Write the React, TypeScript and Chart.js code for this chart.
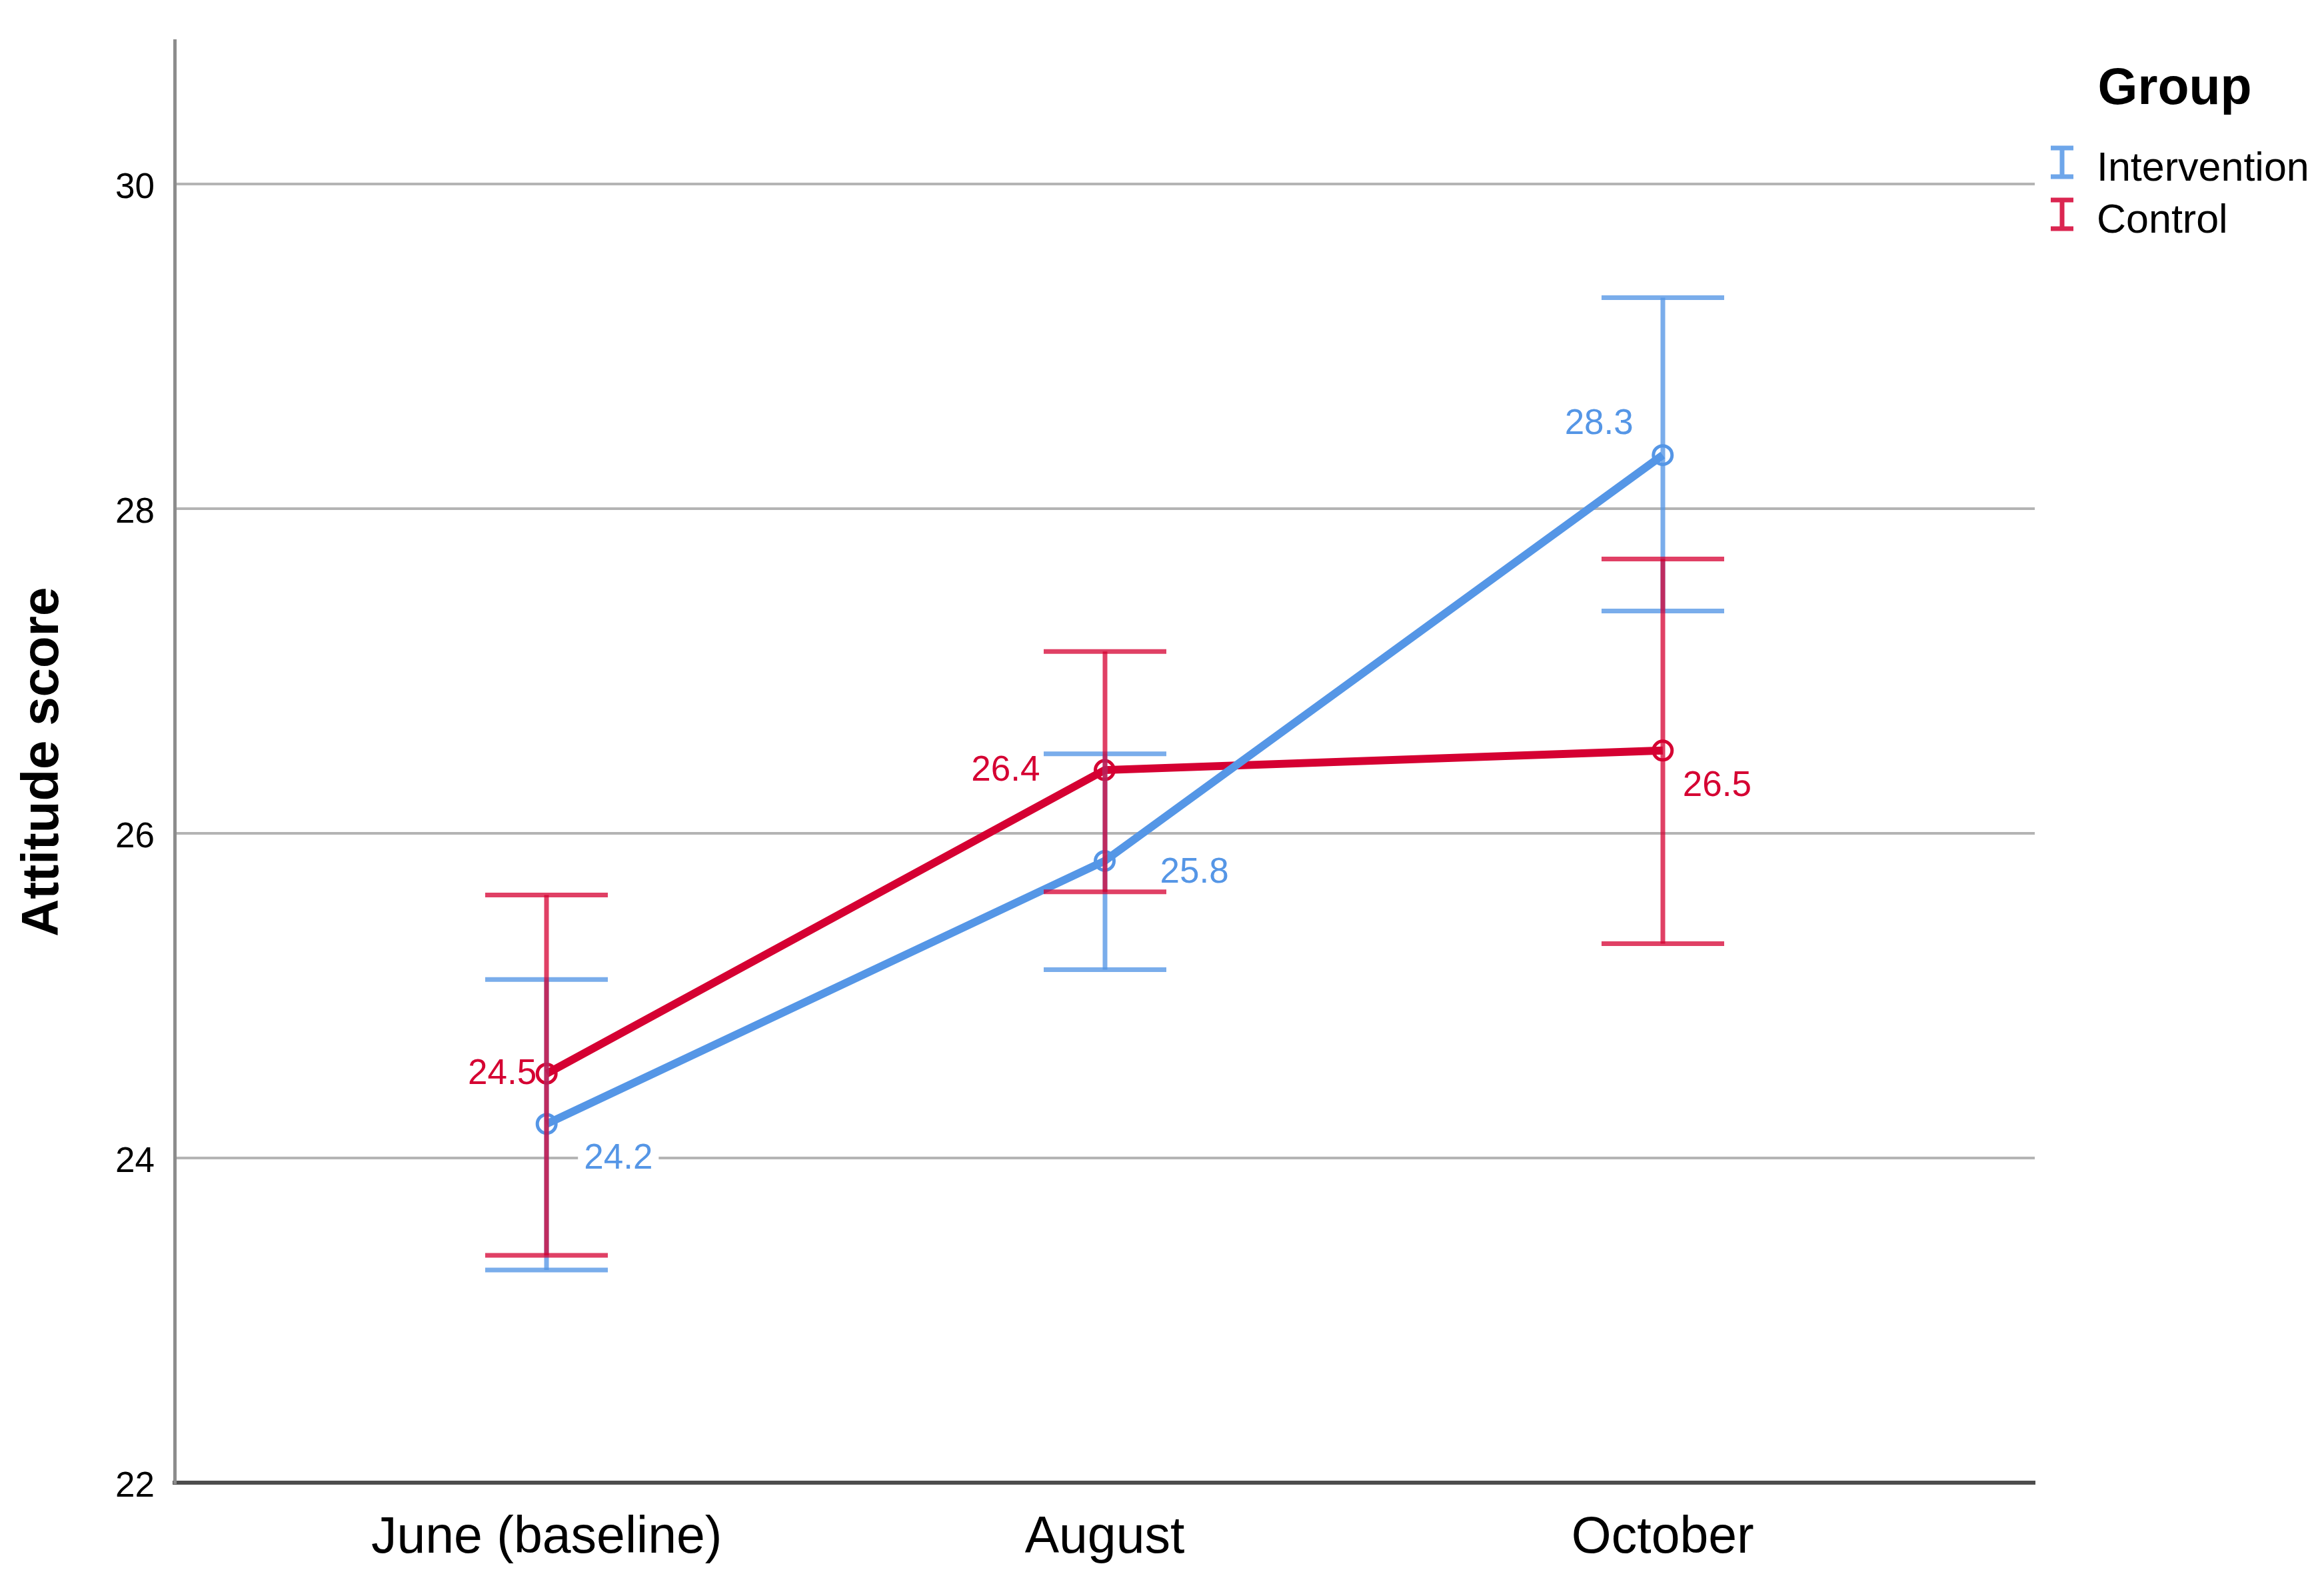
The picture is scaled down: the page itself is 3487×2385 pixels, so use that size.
import React, { useEffect, useRef } from 'react';
import { Chart, registerables } from 'chart.js';

Chart.register(...registerables);

// ---------- data ----------
const categories = ['June (baseline)', 'August', 'October'];
const seriesNames = ['Intervention', 'Control'];

const interventionMeans = [24.21, 25.83, 28.33];
const interventionLower = [23.31, 25.16, 27.37];
const interventionUpper = [25.1, 26.49, 29.3];

const controlMeans = [24.52, 26.39, 26.51];
const controlLower = [23.4, 25.64, 25.32];
const controlUpper = [25.62, 27.12, 27.69];

const yTicks = [22, 24, 26, 28, 30];
const yTitle = 'Attitude score';
const legendTitle = 'Group';

// ---------- styles ----------
const W = 3487;
const H = 2385;
const FONT = "'Liberation Sans', Arial, Helvetica, sans-serif";
const BLUE = '#5596E6';
const RED = '#D50032';
const BLUE_BAR = 'rgba(85,150,230,0.78)';
const RED_BAR = 'rgba(213,0,50,0.75)';

// label placement (pixel offsets relative to the point; style only)
const interventionLabelPlacement = [
  { dx: 56, dy: 52, align: 'left' },
  { dx: 83, dy: 17, align: 'left' },
  { dx: -44, dy: -47, align: 'right' },
];
const controlLabelPlacement = [
  { dx: -15, dy: 0, align: 'right' },
  { dx: -97, dy: 0, align: 'right' },
  { dx: 30, dy: 53, align: 'left' },
];

const seriesMeta = [
  { means: interventionMeans, lower: interventionLower, upper: interventionUpper, color: BLUE, barColor: BLUE_BAR, placement: interventionLabelPlacement },
  { means: controlMeans, lower: controlLower, upper: controlUpper, color: RED, barColor: RED_BAR, placement: controlLabelPlacement },
];

const labelsPlugin = {
  id: 'valueLabels',
  beforeDatasetsDraw(chart: any) {
    const { ctx, scales } = chart;
    const xs = scales.x;
    const ys = scales.y;
    ctx.save();
    ctx.font = `53px ${FONT}`;
    ctx.textBaseline = 'middle';
    seriesMeta.forEach((s) => {
      s.means.forEach((m, i) => {
        const px = xs.getPixelForValue(i);
        const py = ys.getPixelForValue(m);
        const p = s.placement[i];
        const text = m.toFixed(1);
        const w = ctx.measureText(text).width;
        const left = p.align === 'left' ? px + p.dx : px + p.dx - w;
        const cy = py + p.dy;
        ctx.fillStyle = '#ffffff';
        ctx.fillRect(left - 9, cy - 24, w + 18, 48);
        ctx.fillStyle = s.color;
        ctx.textAlign = 'left';
        ctx.fillText(text, left, cy + 1);
      });
    });
    ctx.restore();
  },
};

const errorBarsPlugin = {
  id: 'errorBars',
  afterDatasetsDraw(chart: any) {
    const { ctx, scales } = chart;
    const xs = scales.x;
    const ys = scales.y;
    const half = 92;
    ctx.save();
    ctx.lineCap = 'butt';
    seriesMeta.forEach((s) => {
      ctx.strokeStyle = s.barColor;
      s.means.forEach((_, i) => {
        const px = Math.round(xs.getPixelForValue(i));
        const yTop = ys.getPixelForValue(s.upper[i]);
        const yBot = ys.getPixelForValue(s.lower[i]);
        ctx.lineWidth = 7;
        ctx.beginPath();
        ctx.moveTo(px, yTop);
        ctx.lineTo(px, yBot);
        ctx.stroke();
        ctx.lineWidth = 7;
        ctx.beginPath();
        ctx.moveTo(px - half, yTop);
        ctx.lineTo(px + half, yTop);
        ctx.moveTo(px - half, yBot);
        ctx.lineTo(px + half, yBot);
        ctx.stroke();
      });
    });
    ctx.restore();
  },
};

const legendPlugin = {
  id: 'customLegend',
  afterDraw(chart: any) {
    const { ctx } = chart;
    ctx.save();
    ctx.fillStyle = '#000';
    ctx.font = `bold 77px ${FONT}`;
    ctx.textAlign = 'center';
    ctx.textBaseline = 'alphabetic';
    ctx.fillText(legendTitle, 3263, 156);
    const rows = [271, 349];
    seriesNames.forEach((name, i) => {
      const base = rows[i];
      const color = seriesMeta[i].color;
      const top = base - 52;
      const bot = base - 3;
      const cx = 3094;
      ctx.strokeStyle = color;
      ctx.globalAlpha = 0.85;
      ctx.lineWidth = 7;
      ctx.beginPath();
      ctx.moveTo(cx - 17, top + 3);
      ctx.lineTo(cx + 17, top + 3);
      ctx.moveTo(cx - 17, bot - 3);
      ctx.lineTo(cx + 17, bot - 3);
      ctx.moveTo(cx, top + 3);
      ctx.lineTo(cx, bot - 3);
      ctx.stroke();
      ctx.globalAlpha = 1;
      ctx.fillStyle = '#000';
      ctx.font = `61px ${FONT}`;
      ctx.textAlign = 'left';
      ctx.fillText(name, 3146, base);
    });
    ctx.restore();
  },
};

export default function App() {
  const ref = useRef<HTMLCanvasElement | null>(null);

  useEffect(() => {
    document.body.style.margin = '0';
    const canvas = ref.current;
    if (!canvas) return;
    Chart.defaults.font.family = FONT;

    const chart = new Chart(canvas, {
      type: 'line',
      data: {
        datasets: [
          {
            label: seriesNames[0],
            data: interventionMeans.map((v, i) => ({ x: i, y: v })),
            borderColor: BLUE,
            borderWidth: 12,
            pointRadius: 14,
            pointBorderWidth: 5,
            pointBorderColor: BLUE,
            pointBackgroundColor: 'rgba(0,0,0,0)',
            tension: 0,
            fill: false,
          },
          {
            label: seriesNames[1],
            data: controlMeans.map((v, i) => ({ x: i, y: v })),
            borderColor: RED,
            borderWidth: 12,
            pointRadius: 14,
            pointBorderWidth: 5,
            pointBorderColor: RED,
            pointBackgroundColor: 'rgba(0,0,0,0)',
            tension: 0,
            fill: false,
          },
        ],
      },
      options: {
        responsive: false,
        animation: false,
        devicePixelRatio: 1,
        layout: { padding: { top: 56, right: 434, left: 0, bottom: 0 } },
        plugins: {
          legend: { display: false },
          tooltip: { enabled: false },
        },
        scales: {
          x: {
            type: 'linear',
            min: -2 / 3,
            max: 8 / 3,
            afterBuildTicks: (scale: any) => {
              scale.ticks = categories.map((_, i) => ({ value: i }));
            },
            afterFit: (scale: any) => {
              scale.height = 161;
            },
            ticks: {
              autoSkip: false,
              maxRotation: 0,
              padding: 38,
              color: '#000',
              font: { size: 77, family: FONT },
              callback: (_v: any, index: number) => categories[index],
            },
            grid: { display: false, drawTicks: false },
            border: { display: true, color: '#4d4d4d', width: 6 },
          },
          y: {
            type: 'linear',
            min: 22,
            max: 30.88,
            afterBuildTicks: (scale: any) => {
              scale.ticks = yTicks.map((v) => ({ value: v }));
            },
            afterFit: (scale: any) => {
              scale.width = 262;
            },
            ticks: {
              padding: 30,
              labelOffset: 6,
              color: '#000',
              font: { size: 53, family: FONT },
              includeBounds: false,
            },
            grid: { color: '#b4b4b4', lineWidth: 4, drawTicks: false },
            border: { display: true, color: '#8c8c8c', width: 5 },
            title: {
              display: true,
              text: yTitle,
              color: '#000',
              font: { size: 78, weight: 'bold', family: FONT },
              padding: { top: 19, bottom: 0 },
            },
          },
        },
      },
      plugins: [labelsPlugin, errorBarsPlugin, legendPlugin],
    } as any);

    return () => chart.destroy();
  }, []);

  return (
    <div style={{ width: W, height: H }}>
      <canvas ref={ref} width={W} height={H} style={{ display: 'block', width: W, height: H }} />
    </div>
  );
}
